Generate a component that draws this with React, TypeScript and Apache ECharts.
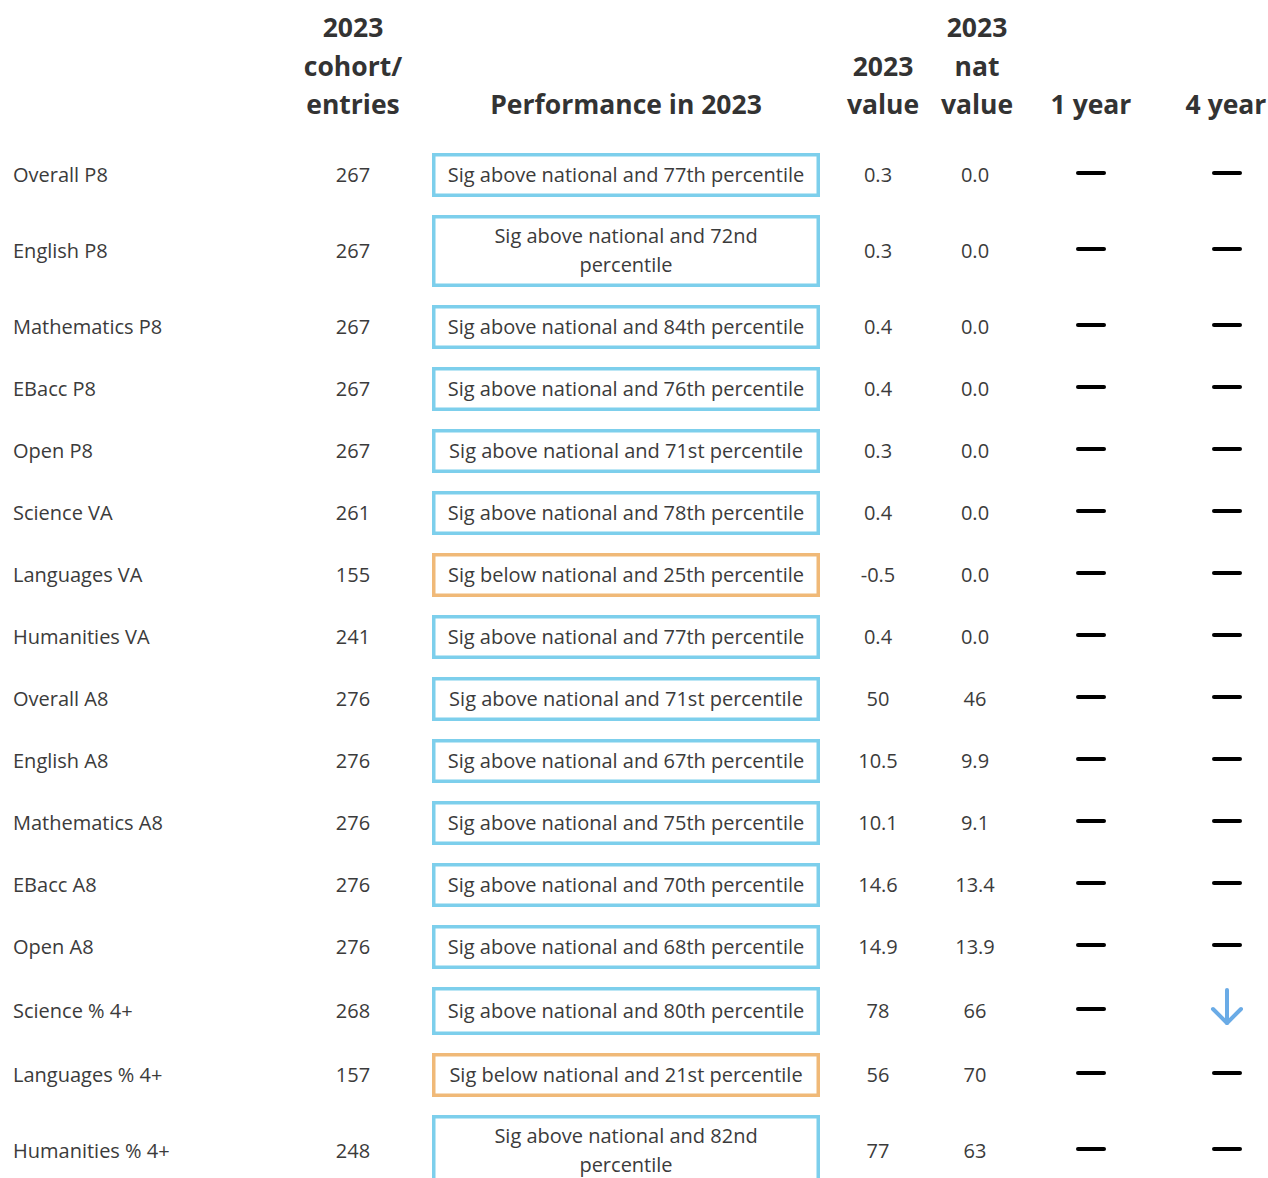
import React, { useEffect, useRef } from "react";
import * as echarts from "echarts";

const measures = [
  "Overall P8", "English P8", "Mathematics P8", "EBacc P8", "Open P8", "Science VA",
  "Languages VA", "Humanities VA", "Overall A8", "English A8", "Mathematics A8",
  "EBacc A8", "Open A8", "Science % 4+", "Languages % 4+", "Humanities % 4+",
];
const cohort = [267, 267, 267, 267, 267, 261, 155, 241, 276, 276, 276, 276, 276, 268, 157, 248];
const performance = [
  "Sig above national and 77th percentile",
  "Sig above national and 72nd\npercentile",
  "Sig above national and 84th percentile",
  "Sig above national and 76th percentile",
  "Sig above national and 71st percentile",
  "Sig above national and 78th percentile",
  "Sig below national and 25th percentile",
  "Sig above national and 77th percentile",
  "Sig above national and 71st percentile",
  "Sig above national and 67th percentile",
  "Sig above national and 75th percentile",
  "Sig above national and 70th percentile",
  "Sig above national and 68th percentile",
  "Sig above national and 80th percentile",
  "Sig below national and 21st percentile",
  "Sig above national and 82nd\npercentile",
];
const values2023 = ["0.3", "0.3", "0.4", "0.4", "0.3", "0.4", "-0.5", "0.4", "50", "10.5", "10.1", "14.6", "14.9", "78", "56", "77"];
const natValues2023 = ["0.0", "0.0", "0.0", "0.0", "0.0", "0.0", "0.0", "0.0", "46", "9.9", "9.1", "13.4", "13.9", "66", "70", "63"];
const trend1Year = ["same", "same", "same", "same", "same", "same", "same", "same", "same", "same", "same", "same", "same", "same", "same", "same"];
const trend4Year = ["same", "same", "same", "same", "same", "same", "same", "same", "same", "same", "same", "same", "same", "down", "same", "same"];

const headers = [
  { lines: ["2023", "cohort/", "entries"], x: 353 },
  { lines: ["Performance in 2023"], x: 626 },
  { lines: ["2023", "value"], x: 883 },
  { lines: ["2023", "nat", "value"], x: 977 },
  { lines: ["1 year"], x: 1091 },
  { lines: ["4 year"], x: 1226 },
];

const W = 1268;
const H = 1178;
const FONT = "'Open Sans', 'Noto Sans', sans-serif";
const TEXT = "#3b3b3b";
const BLUE = "#7dcfec";
const ORANGE = "#f0b978";
const ARROW = "#6aabe6";

const COL = { label: 13, cohort: 353, boxL: 432, boxR: 820, value: 878, nat: 975, t1: 1091, t4: 1227 };

function rowHeight(i: number) {
  const lines = performance[i].split("\n").length;
  if (lines > 1) return 90;
  if (trend4Year[i] !== "same" || trend1Year[i] !== "same") return 66;
  return 62;
}

const rowTops: number[] = [];
const rowHs: number[] = [];
{
  let y = 144;
  for (let i = 0; i < measures.length; i++) {
    rowTops.push(y);
    const h = rowHeight(i);
    rowHs.push(h);
    y += h;
  }
}

function trendShape(kind: string, cx: number, cy: number) {
  if (kind === "down") {
    return {
      type: "group",
      children: [
        { type: "line", shape: { x1: cx, y1: cy - 21, x2: cx, y2: cy + 12 }, style: { stroke: ARROW, lineWidth: 4, lineCap: "round" } },
        { type: "polyline", shape: { points: [[cx - 14, cy - 2], [cx, cy + 12], [cx + 14, cy - 2]] }, style: { stroke: ARROW, lineWidth: 4, lineCap: "round", lineJoin: "round", fill: "none" } },
      ],
    };
  }
  if (kind === "up") {
    return {
      type: "group",
      children: [
        { type: "line", shape: { x1: cx, y1: cy + 21, x2: cx, y2: cy - 12 }, style: { stroke: ARROW, lineWidth: 4, lineCap: "round" } },
        { type: "polyline", shape: { points: [[cx - 14, cy + 2], [cx, cy - 12], [cx + 14, cy + 2]] }, style: { stroke: ARROW, lineWidth: 4, lineCap: "round", lineJoin: "round", fill: "none" } },
      ],
    };
  }
  return { type: "line", shape: { x1: cx - 13, y1: cy - 2, x2: cx + 13, y2: cy - 2 }, style: { stroke: "#000", lineWidth: 4, lineCap: "round" } };
}

export default function App() {
  const ref = useRef<HTMLDivElement>(null);
  useEffect(() => {
    if (!ref.current) return;
    const chart = echarts.init(ref.current, undefined, { renderer: "svg" });

    const headerGraphics: any[] = [];
    headers.forEach((h) => {
      const n = h.lines.length;
      h.lines.forEach((ln, k) => {
        headerGraphics.push({
          type: "text",
          x: h.x,
          y: 104 - (n - 1 - k) * 38.5,
          style: { text: ln, fill: "#333", font: `bold 26.5px ${FONT}`, textAlign: "center", textVerticalAlign: "middle" },
        });
      });
    });

    const txt = (text: string, x: number, y: number, align: string) => ({
      type: "text",
      x,
      y: y - 1,
      style: { text, fill: TEXT, font: `20px ${FONT}`, textAlign: align, textVerticalAlign: "middle", lineHeight: 29 },
    });

    chart.setOption({
      animation: false,
      grid: { left: 0, right: 0, top: 0, bottom: 0 },
      xAxis: { type: "value", min: 0, max: W, show: false },
      yAxis: { type: "value", min: 0, max: H, inverse: true, show: false },
      graphic: headerGraphics,
      series: [
        {
          type: "custom",
          coordinateSystem: "cartesian2d",
          data: measures.map((_, i) => [i, rowTops[i], rowHs[i]]),
          renderItem: (params: any, api: any) => {
            const i = api.value(0);
            const top = api.value(1);
            const h = api.value(2);
            const [, cyPx] = api.coord([0, top + h / 2]);
            const [, topPx] = api.coord([0, top]);
            const x = (v: number) => api.coord([v, 0])[0];
            const below = performance[i].indexOf("below") >= 0;
            const bl = x(COL.boxL);
            const br = x(COL.boxR);
            return {
              type: "group",
              children: [
                txt(measures[i], x(COL.label), cyPx, "left"),
                txt(String(cohort[i]), x(COL.cohort), cyPx, "center"),
                {
                  type: "rect",
                  shape: { x: bl + 1.75, y: topPx + 9 + 1.75, width: br - bl - 3.5, height: h - 18 - 3.5 },
                  style: { fill: "#fff", stroke: below ? ORANGE : BLUE, lineWidth: 3.5 },
                },
                txt(performance[i], (bl + br) / 2, cyPx, "center"),
                txt(values2023[i], x(COL.value), cyPx, "center"),
                txt(natValues2023[i], x(COL.nat), cyPx, "center"),
                trendShape(trend1Year[i], x(COL.t1), cyPx),
                trendShape(trend4Year[i], x(COL.t4), cyPx),
              ],
            };
          },
        },
      ],
    });
    return () => chart.dispose();
  }, []);
  return <div ref={ref} style={{ position: "absolute", left: 0, top: 0, width: W, height: H, background: "#fff" }} />;
}
